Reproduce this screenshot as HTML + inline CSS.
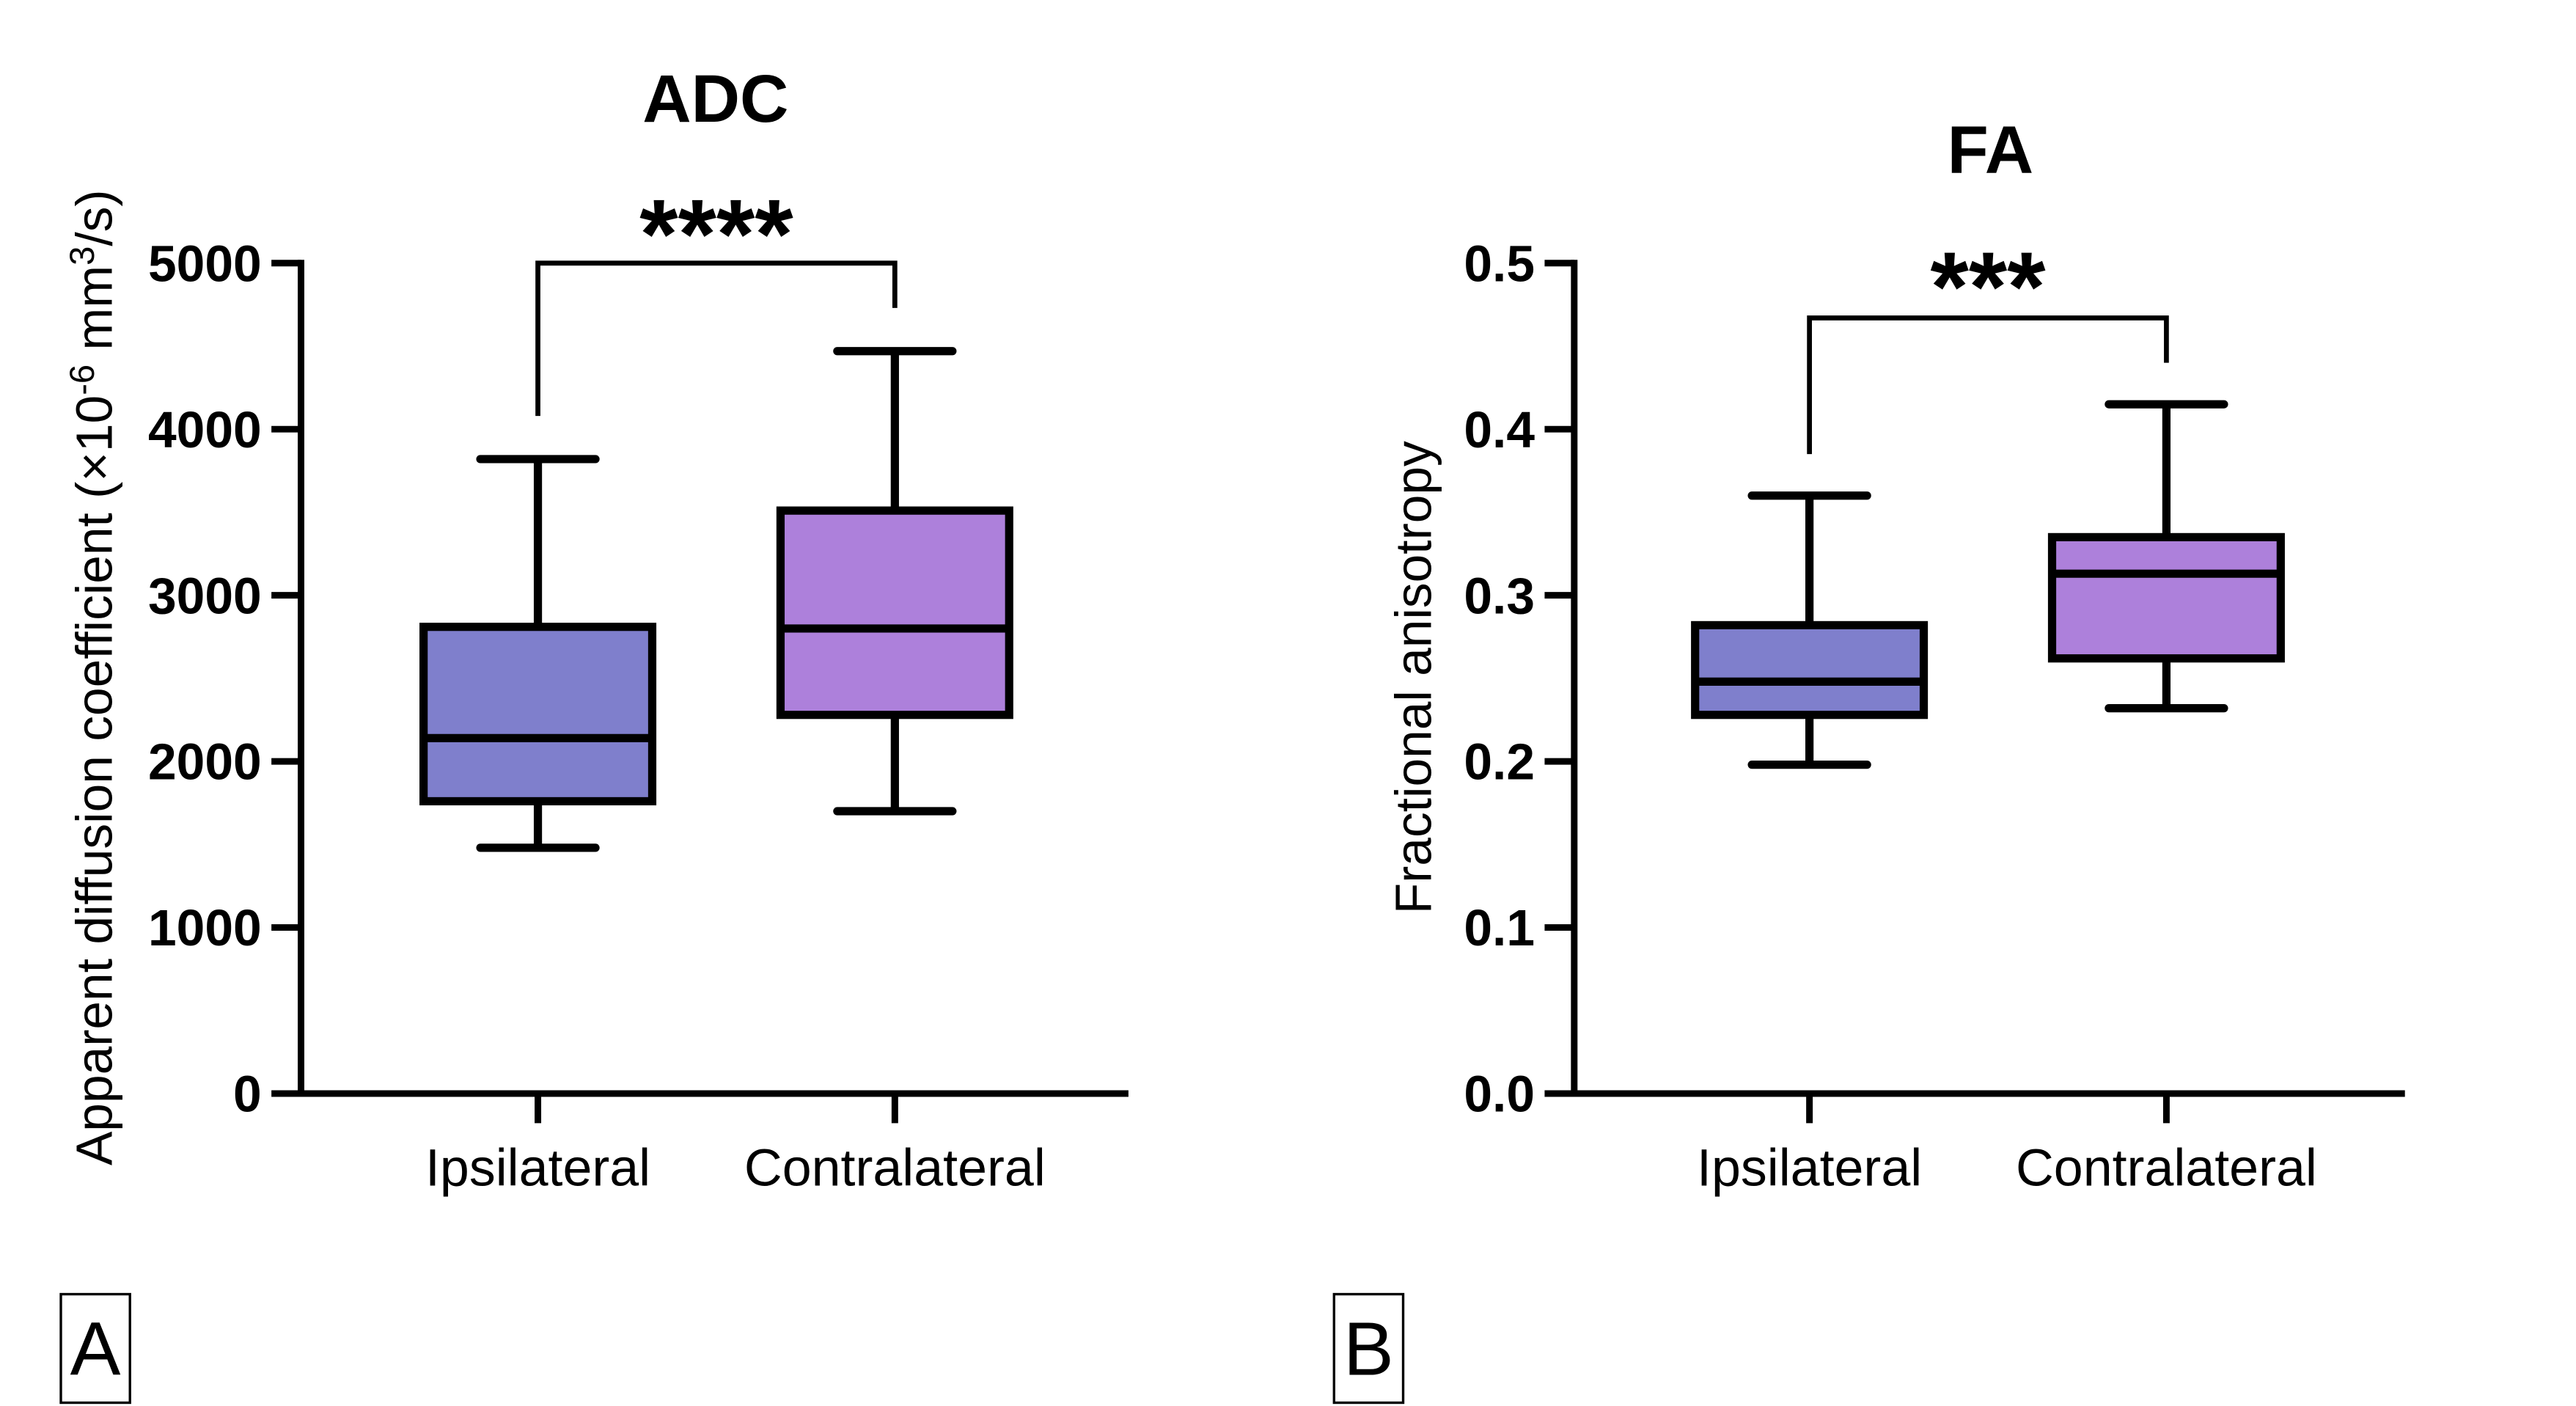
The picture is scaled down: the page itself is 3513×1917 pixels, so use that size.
<!DOCTYPE html>
<html><head><meta charset="utf-8"><style>
html,body{margin:0;padding:0;background:#fff;}
svg{display:block;font-family:"Liberation Sans",Arial,sans-serif;}
</style></head><body>
<svg id="fig" width="3513" height="1917" viewBox="0 0 1566 855" preserveAspectRatio="none">
<rect width="1566" height="855" fill="#fff"/>
<g id="panelA"></g>
<g id="panelB"></g>
<g>
<rect x="37" y="787" width="42" height="66" fill="none" stroke="#000" stroke-width="1.5"/>
<text x="58" y="836" font-size="46" text-anchor="middle">A</text></g>
<g>
<rect x="811" y="787" width="42" height="66" fill="none" stroke="#000" stroke-width="1.5"/>
<text x="832" y="836" font-size="46" text-anchor="middle">B</text></g>
</svg>
<script>
const categories = ["Ipsilateral","Contralateral"];
const adcMin = [1480, 1700];
const adcQ1 = [1760, 2280];
const adcMedian = [2140, 2800];
const adcQ3 = [2810, 3510];
const adcMax = [3820, 4470];
const adcTicks = [0,1000,2000,3000,4000,5000];
const adcTickLabels = ["0","1000","2000","3000","4000","5000"];
const adcBracket = [5000, 4080, 4730];
const faMin = [0.198, 0.232];
const faQ1 = [0.228, 0.262];
const faMedian = [0.248, 0.313];
const faQ3 = [0.282, 0.335];
const faMax = [0.360, 0.415];
const faTicks = [0,0.1,0.2,0.3,0.4,0.5];
const faTickLabels = ["0.0","0.1","0.2","0.3","0.4","0.5"];
const faBracket = [0.467, 0.385, 0.44];
const fills = ["#7f7fcc","#ad80db"];
const NS="http://www.w3.org/2000/svg";
function mk(parent, tag, attrs, text){
  const e=document.createElementNS(NS,tag);
  for(const k in attrs) e.setAttribute(k,attrs[k]);
  if(text!==undefined) e.textContent=text;
  parent.appendChild(e); return e;
}
function draw(g, cfg){
  const y = v => cfg.y0 - (v - 0)/(cfg.ymax)*(cfg.y0 - cfg.y1);
  const x = i => cfg.xc[i];
  const ax=mk(g,'line',{x1:cfg.ax,y1:cfg.y1-2,x2:cfg.ax,y2:cfg.y0,stroke:'#000','stroke-width':4});
   
  const bx=mk(g,'line',{x1:cfg.ax-2,y1:cfg.y0,x2:cfg.xend,y2:cfg.y0,stroke:'#000','stroke-width':4});
   
  cfg.ticks.forEach((t,i)=>{
    const l=mk(g,'line',{x1:cfg.ax-18,y1:y(t),x2:cfg.ax,y2:y(t),stroke:'#000','stroke-width':4});
     
    const tx=mk(g,'text',{x:cfg.ax-24,y:y(t)+11,'font-size':31,'font-weight':'bold','text-anchor':'end'},cfg.tickLabels[i]);
     
  });
  categories.forEach((c,i)=>{
    const l=mk(g,'line',{x1:x(i),y1:cfg.y0,x2:x(i),y2:cfg.y0+18,stroke:'#000','stroke-width':4});
     
    const tx=mk(g,'text',{x:x(i),y:cfg.y0+56,'font-size':32,'text-anchor':'middle'},c);
     
    const bw=139, L=x(i)-bw/2;
    const wg=mk(g,'g',{});  
    mk(wg,'line',{x1:x(i),y1:y(cfg.max[i]),x2:x(i),y2:y(cfg.q3[i]),stroke:'#000','stroke-width':5});
    mk(wg,'line',{x1:x(i),y1:y(cfg.min[i]),x2:x(i),y2:y(cfg.q1[i]),stroke:'#000','stroke-width':5});
    mk(wg,'line',{x1:x(i)-35,y1:y(cfg.max[i]),x2:x(i)+35,y2:y(cfg.max[i]),stroke:'#000','stroke-width':5,'stroke-linecap':'round'});
    mk(wg,'line',{x1:x(i)-35,y1:y(cfg.min[i]),x2:x(i)+35,y2:y(cfg.min[i]),stroke:'#000','stroke-width':5,'stroke-linecap':'round'});
    mk(wg,'rect',{x:L,y:y(cfg.q3[i]),width:bw,height:y(cfg.q1[i])-y(cfg.q3[i]),fill:fills[i],stroke:'#000','stroke-width':5});
    mk(wg,'line',{x1:L,y1:y(cfg.med[i]),x2:L+bw,y2:y(cfg.med[i]),stroke:'#000','stroke-width':5});
  });
  const b=cfg.bracket;
  const br=mk(g,'polyline',{points:`${x(0)},${y(b[1])} ${x(0)},${y(b[0])} ${x(1)},${y(b[0])} ${x(1)},${y(b[2])}`,fill:'none',stroke:'#000','stroke-width':3});
   
  const st=mk(g,'text',{x:(x(0)+x(1))/2,y:cfg.starY,'font-size':60,'font-weight':'bold','text-anchor':'middle'},cfg.stars);
   
  const ti=mk(g,'text',{x:cfg.titleX,y:cfg.titleY,'font-size':41,'font-weight':'bold','text-anchor':'middle'},cfg.title);
   
  const yt=mk(g,'text',{x:0,y:0,'font-size':cfg.ytSize,'text-anchor':'middle',transform:`translate(${cfg.ytX},${cfg.ytY}) rotate(-90)`});
   
  yt.innerHTML=cfg.ytitle;
}
draw(document.getElementById('panelA'),{y0:665,y1:160,ymax:5000,ax:183,xend:686,xc:[327,544],
  ticks:adcTicks,tickLabels:adcTickLabels,min:adcMin,q1:adcQ1,med:adcMedian,q3:adcQ3,max:adcMax,
  bracket:adcBracket,stars:"****",starY:163,title:"ADC",titleX:435,titleY:74,
  ytX:68,ytY:412,ytSize:31,
  ytitle:'Apparent diffusion coefficient (×10<tspan dy="-11" font-size="21">-6</tspan><tspan dy="11"> mm</tspan><tspan dy="-11" font-size="21">3</tspan><tspan dy="11">/s)</tspan>'});
draw(document.getElementById('panelB'),{y0:665,y1:160,ymax:0.5,ax:957,xend:1462,xc:[1100,1317],
  ticks:faTicks,tickLabels:faTickLabels,min:faMin,q1:faQ1,med:faMedian,q3:faQ3,max:faMax,
  bracket:faBracket,stars:"***",starY:195,title:"FA",titleX:1210,titleY:105,
  ytX:870,ytY:412,ytSize:31,ytitle:'Fractional anisotropy'});
</script>
</body></html>
